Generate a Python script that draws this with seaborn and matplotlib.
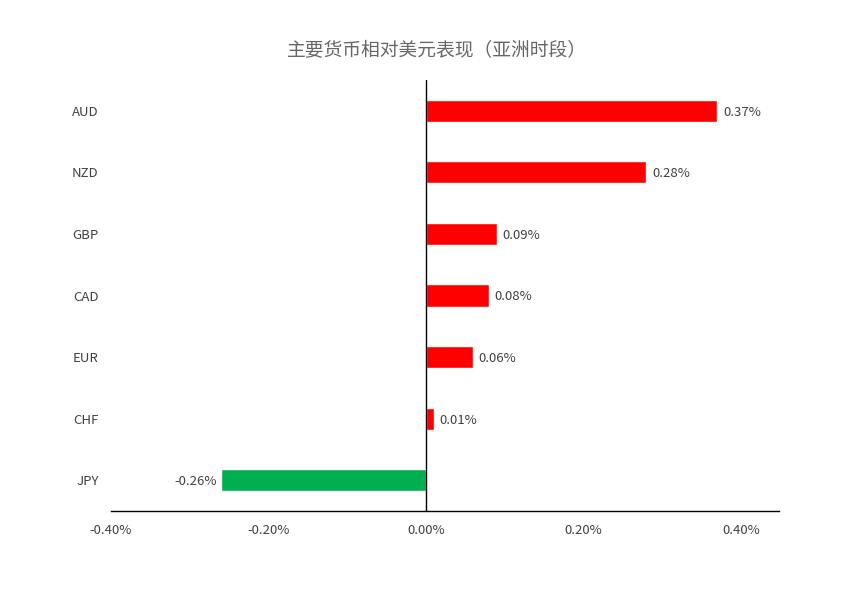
import matplotlib
matplotlib.use("Agg")
import matplotlib.pyplot as plt
import seaborn as sns
import pandas as pd

# data (percent change vs USD)
currencies = ["AUD", "NZD", "GBP", "CAD", "EUR", "CHF", "JPY"]
changes = [0.37, 0.28, 0.09, 0.08, 0.06, 0.01, -0.26]
title = "主要货币相对美元表现（亚洲时段）"

sns.set_theme(style="white")
plt.rcParams['font.family'] = ['Noto Sans CJK SC', 'DejaVu Sans']

df = pd.DataFrame({"Currency": currencies, "Change": changes})
df["Sign"] = ["pos" if v >= 0 else "neg" for v in df["Change"]]

fig = plt.figure(figsize=(8.62, 5.92), dpi=100)
ax = fig.add_axes([111 / 862, 1 - 511 / 592, (779 - 111) / 862, (511 - 80) / 592])

sns.barplot(data=df, y="Currency", x="Change", hue="Sign", order=currencies,
            palette={"pos": "#FF0000", "neg": "#00B050"}, orient="h",
            width=0.36, legend=False, ax=ax, dodge=False, saturation=1)

ax.set_xlim(-0.4, 0.4483)
ax.set_ylim(len(currencies) - 0.5, -0.5)
ax.set_xticks([-0.4, -0.2, 0.0, 0.2, 0.4])
ax.set_xticklabels([f"{t:.2f}%" for t in [-0.4, -0.2, 0.0, 0.2, 0.4]])
ax.set_xlabel("")
ax.set_ylabel("")

for s in ["top", "right", "left"]:
    ax.spines[s].set_visible(False)
ax.spines["bottom"].set_color("black")
ax.spines["bottom"].set_linewidth(1)
ax.axvline(0, color="black", linewidth=1)

ax.tick_params(axis="x", length=0, pad=9, labelsize=9.5, labelcolor="#404040")
ax.tick_params(axis="y", length=0, pad=9, labelsize=9.5, labelcolor="#404040")

# value labels next to bar ends
for i, v in enumerate(changes):
    if v >= 0:
        ax.annotate(f"{v:.2f}%", (v, i), xytext=(4, -1), textcoords="offset points",
                    ha="left", va="center", fontsize=9.5, color="#404040")
    else:
        ax.annotate(f"{v:.2f}%", (v, i), xytext=(-3, -1), textcoords="offset points",
                    ha="right", va="center", fontsize=9.5, color="#404040")

fig.text(437 / 862, 1 - 50 / 592, title, ha="center", va="center",
         fontsize=13.5, color="#666666")

fig.savefig("out.png", dpi=100)
